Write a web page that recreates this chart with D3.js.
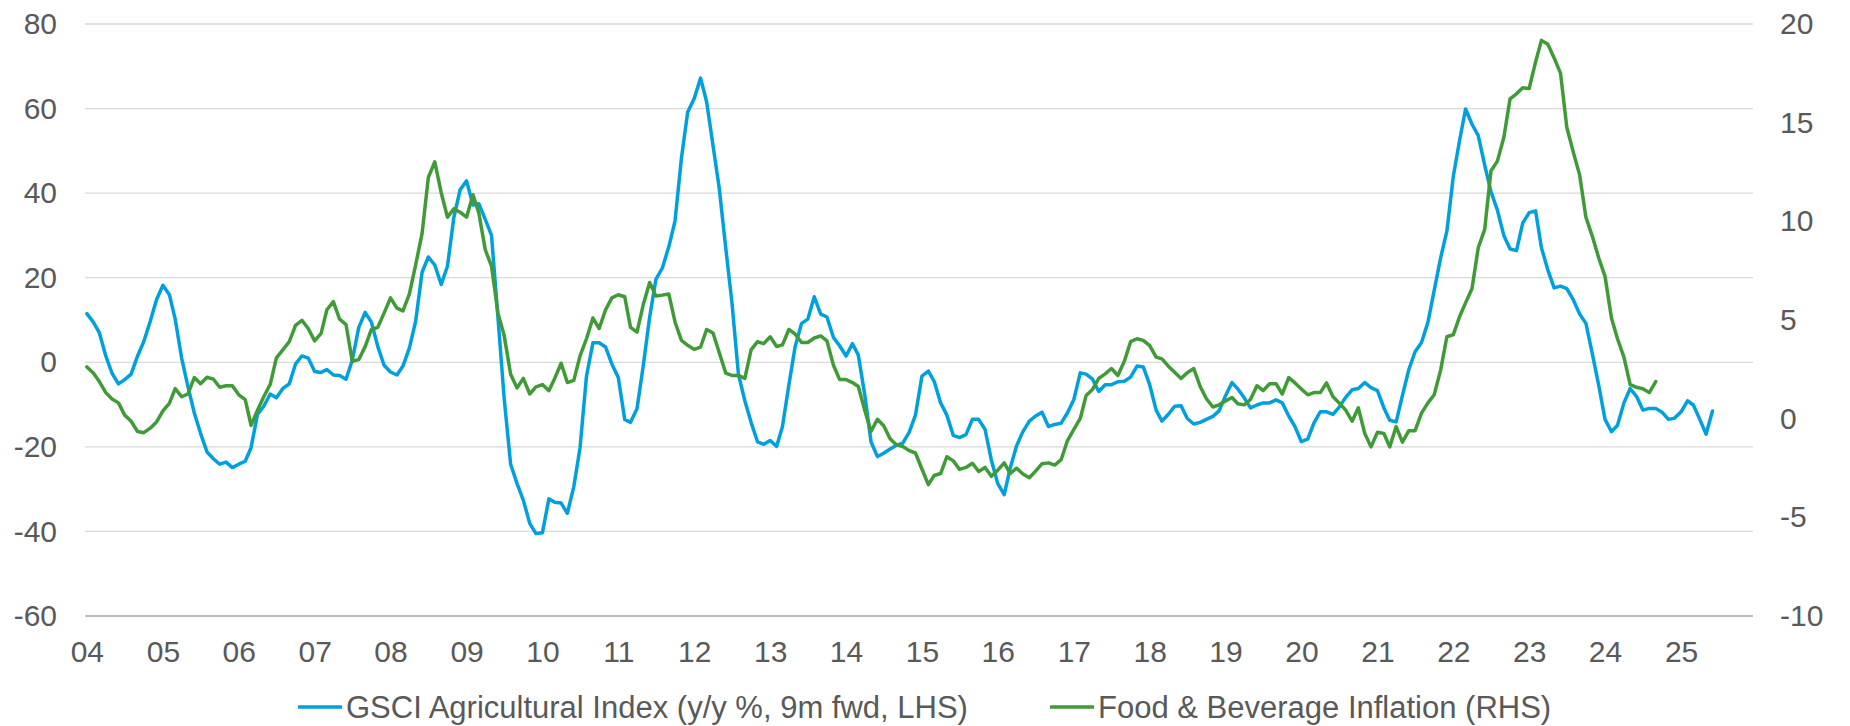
<!DOCTYPE html>
<html lang="en">
<head>
  <meta charset="UTF-8">
  <title>GSCI Agricultural Index vs Food & Beverage Inflation</title>
  <script src="https://d3js.org/d3.v7.min.js"></script>
  <style>
    body { margin: 0; background: #fff; }
    text { font-family: "Liberation Sans", Arial, sans-serif; fill: #595959; }
  </style>
</head>
<body>

<script>
  // monthly series, first point = Jan 2004
  var startMonth = new Date(2004, 0, 1);

  // GSCI Agricultural Index (y/y %, 9m fwd) - left axis
  var gsci = [
    11.5, 9.5, 7.0, 1.5, -2.6, -5.1, -4.1, -2.8, 1.5, 4.9,
    9.7, 14.8, 18.2, 16.0, 10.2, 1.0, -5.7, -12.0, -16.8, -21.2,
    -22.8, -24.1, -23.6, -24.9, -24.1, -23.4, -20.2, -12.3, -10.4, -7.5,
    -8.4, -6.2, -5.1, -0.4, 1.5, 1.0, -2.2, -2.4, -1.7, -3.0,
    -3.1, -4.0, 0.5, 8.2, 11.8, 9.5, 3.7, -0.7, -2.3, -3.0,
    -0.9, 3.4, 9.7, 21.3, 24.9, 23.0, 18.4, 22.7, 34.3, 40.8,
    42.9, 37.2, 37.5, 33.8, 30.0, 10.6, -8.6, -24.1, -28.7, -32.6,
    -38.1, -40.5, -40.3, -32.3, -33.1, -33.3, -35.7, -29.4, -20.2, -3.3,
    4.6, 4.6, 3.6, -0.4, -3.6, -13.5, -14.2, -11.0, -0.9, 10.7,
    19.6, 22.3, 27.3, 33.4, 48.3, 59.2, 62.3, 67.2, 61.6, 51.2,
    41.1, 27.1, 14.1, -2.8, -9.1, -14.2, -18.8, -19.4, -18.5, -19.9,
    -15.2, -5.3, 3.7, 9.2, 10.2, 15.5, 11.4, 10.7, 5.9, 3.9,
    1.5, 4.4, 1.7, -7.7, -18.8, -22.3, -21.5, -20.5, -19.6, -19.1,
    -16.5, -12.5, -3.3, -2.1, -4.5, -9.6, -12.5, -17.3, -17.8, -17.1,
    -13.5, -13.5, -15.9, -23.1, -28.7, -31.3, -25.0, -19.7, -16.4, -13.9,
    -12.7, -11.8, -15.2, -14.7, -14.4, -12.0, -8.8, -2.5, -2.8, -4.0,
    -6.9, -5.3, -5.3, -4.6, -4.5, -3.5, -0.9, -1.1, -5.3, -11.3,
    -13.9, -12.3, -10.4, -10.3, -13.3, -14.6, -14.2, -13.5, -12.8, -11.5,
    -7.9, -4.8, -6.3, -8.4, -10.8, -10.1, -9.6, -9.6, -8.9, -9.6,
    -12.7, -15.2, -18.8, -18.1, -14.4, -11.7, -11.7, -12.3, -10.6, -8.3,
    -6.5, -6.2, -4.8, -6.0, -6.7, -10.8, -13.7, -14.1, -7.9, -1.7,
    2.5, 4.7, 9.5, 17.0, 24.7, 31.0, 44.0, 52.7, 59.9, 56.3,
    53.6, 46.6, 40.4, 36.0, 30.0, 26.8, 26.4, 32.9, 35.4, 35.8,
    27.1, 21.8, 17.6, 18.0, 17.4, 14.8, 11.4, 9.2, 2.0, -5.3,
    -13.5, -16.4, -14.9, -9.6, -6.2, -8.1, -11.3, -10.9, -10.9, -11.8,
    -13.5, -13.2, -11.7, -9.1, -10.1, -13.5, -17.0, -11.5
  ];

  // Food & Beverage Inflation - right axis
  var food = [
    2.62, 2.31, 1.88, 1.32, 1.00, 0.80, 0.18, -0.13, -0.65, -0.71,
    -0.48, -0.17, 0.39, 0.78, 1.52, 1.11, 1.25, 2.08, 1.77, 2.10,
    2.00, 1.59, 1.67, 1.67, 1.21, 0.96, -0.34, 0.43, 1.11, 1.73,
    3.08, 3.49, 3.90, 4.73, 4.98, 4.57, 3.94, 4.32, 5.52, 5.93,
    5.04, 4.77, 2.91, 2.99, 3.65, 4.52, 4.63, 5.35, 6.12, 5.60,
    5.46, 6.32, 7.79, 9.39, 12.22, 13.01, 11.45, 10.21, 10.63, 10.46,
    10.21, 11.35, 10.42, 8.56, 7.73, 5.35, 4.21, 2.25, 1.56, 2.04,
    1.25, 1.61, 1.73, 1.42, 2.04, 2.81, 1.83, 1.94, 3.18, 4.05,
    5.10, 4.57, 5.52, 6.12, 6.28, 6.18, 4.63, 4.38, 5.77, 6.90,
    6.22, 6.26, 6.32, 4.90, 3.97, 3.72, 3.51, 3.63, 4.52, 4.34,
    3.34, 2.31, 2.19, 2.19, 2.04, 3.49, 3.90, 3.80, 4.15, 3.66,
    3.74, 4.52, 4.28, 3.86, 3.86, 4.09, 4.19, 3.94, 2.72, 1.98,
    1.98, 1.83, 1.63, 0.43, -0.65, -0.03, -0.36, -1.02, -1.33, -1.41,
    -1.62, -1.74, -2.55, -3.34, -2.88, -2.78, -1.93, -2.14, -2.57, -2.47,
    -2.26, -2.68, -2.47, -2.92, -2.61, -2.24, -2.78, -2.51, -2.80, -2.99,
    -2.66, -2.28, -2.24, -2.35, -2.08, -1.12, -0.54, 0.01, 1.17, 1.48,
    2.04, 2.27, 2.54, 2.19, 2.91, 3.90, 4.05, 3.97, 3.70, 3.12,
    3.03, 2.66, 2.35, 2.04, 2.33, 2.54, 1.63, 1.01, 0.59, 0.70,
    0.90, 1.07, 0.76, 0.70, 0.97, 1.67, 1.42, 1.77, 1.77, 1.25,
    2.08, 1.81, 1.50, 1.21, 1.32, 1.32, 1.81, 1.11, 0.80, 0.43,
    -0.13, 0.55, -0.75, -1.43, -0.69, -0.75, -1.43, -0.40, -1.19, -0.61,
    -0.61, 0.28, 0.80, 1.21, 2.46, 4.15, 4.26, 5.19, 5.87, 6.60,
    8.66, 9.59, 12.55, 13.05, 14.25, 16.21, 16.46, 16.77, 16.73, 18.08,
    19.17, 18.97, 18.28, 17.50, 14.77, 13.52, 12.34, 10.21, 9.24, 8.17,
    7.21, 5.10, 4.05, 3.12, 1.73, 1.59, 1.52, 1.32, 1.88
  ];

  var leftTicks = [-60, -40, -20, 0, 20, 40, 60, 80];
  var rightTicks = [-10, -5, 0, 5, 10, 15, 20];
  var seriesNames = ["GSCI Agricultural Index (y/y %, 9m fwd, LHS)", "Food & Beverage Inflation (RHS)"];
  var seriesColors = ["#00A0DE", "#3F9B35"];

  var width = 1850, height = 726,
    plot = { left: 85, right: 1753, top: 24, bottom: 616 };

  var svg = d3.select("body").append("svg")
    .attr("width", width)
    .attr("height", height);

  var x = d3.scaleTime()
    .domain([new Date(2003, 11, 23), new Date(2025, 11, 13)])
    .range([plot.left, plot.right]);

  var yL = d3.scaleLinear().domain([-60, 80]).range([plot.bottom, plot.top]);
  var yR = d3.scaleLinear().domain([-10, 20]).range([plot.bottom, plot.top]);

  // plain hyphen for negatives, like the original
  var plainNum = function (d) { return String(d); };

  // gridlines
  svg.append("g").selectAll("line")
    .data(leftTicks)
    .enter().append("line")
    .attr("x1", plot.left)
    .attr("x2", plot.right)
    .attr("y1", function (d) { return yL(d); })
    .attr("y2", function (d) { return yL(d); })
    .style("stroke", function (d) { return d === -60 ? "#A6A6A6" : "#D9D9D9"; })
    .style("stroke-width", 1.3);

  // axes
  var axisL = svg.append("g")
    .attr("transform", "translate(" + plot.left + ",0)")
    .call(d3.axisLeft(yL).tickValues(leftTicks).tickFormat(plainNum).tickSize(0).tickPadding(28));

  var axisR = svg.append("g")
    .attr("transform", "translate(" + plot.right + ",0)")
    .call(d3.axisRight(yR).tickValues(rightTicks).tickFormat(plainNum).tickSize(0).tickPadding(27));

  var axisX = svg.append("g")
    .attr("transform", "translate(0," + plot.bottom + ")")
    .call(d3.axisBottom(x).ticks(d3.timeYear.every(1)).tickFormat(d3.timeFormat("%y")).tickSize(0).tickPadding(25));

  [axisL, axisR, axisX].forEach(function (a) {
    a.select(".domain").remove();
    a.selectAll("text")
      .style("font-size", "30px")
      .style("font-family", "'Liberation Sans', Arial, sans-serif")
      .attr("fill", "#595959");
  });

  // lines
  function monthDate(i) { return d3.timeMonth.offset(startMonth, i); }

  var lineL = d3.line()
    .x(function (d, i) { return x(monthDate(i)); })
    .y(function (d) { return yL(d); });

  var lineR = d3.line()
    .x(function (d, i) { return x(monthDate(i)); })
    .y(function (d) { return yR(d); });

  svg.append("path")
    .datum(gsci)
    .attr("d", lineL)
    .style("fill", "none")
    .style("stroke", seriesColors[0])
    .style("stroke-width", 3.5)
    .style("stroke-linejoin", "round")
    .style("stroke-linecap", "round");

  svg.append("path")
    .datum(food)
    .attr("d", lineR)
    .style("fill", "none")
    .style("stroke", seriesColors[1])
    .style("stroke-width", 3.5)
    .style("stroke-linejoin", "round")
    .style("stroke-linecap", "round");

  // legend
  var legendY = 707,
    legendX = [298, 1050];

  var legend = svg.append("g").selectAll("g")
    .data(seriesNames)
    .enter().append("g")
    .attr("transform", function (d, i) { return "translate(" + legendX[i] + "," + legendY + ")"; });

  legend.append("line")
    .attr("x1", 0)
    .attr("x2", 44)
    .style("stroke", function (d, i) { return seriesColors[i]; })
    .style("stroke-width", 3.5);

  legend.append("text")
    .attr("x", 48)
    .attr("dy", "0.35em")
    .style("font-size", "31px")
    .text(function (d) { return d; });
</script>

</body>
</html>
